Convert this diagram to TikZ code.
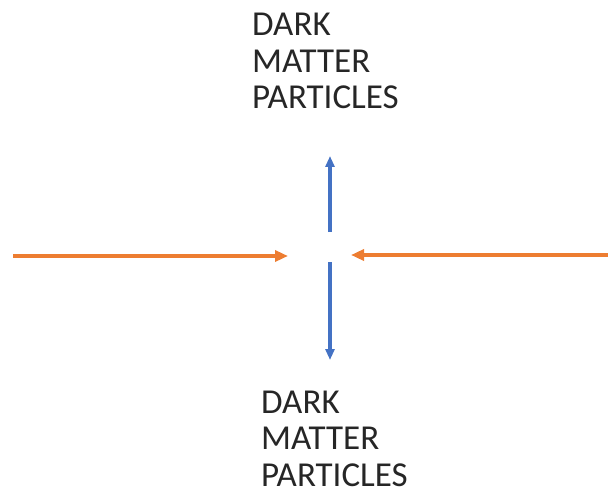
\documentclass[tikz,border=0pt]{standalone}
\usepackage{fontspec}
\setmainfont{Carlito}
\usetikzlibrary{arrows.meta}
\definecolor{beamorange}{HTML}{ED7D31}
\definecolor{decayblue}{HTML}{4472C4}
\tikzset{
  beam/.style={draw=beamorange, line width=4.5pt, -{Triangle[length=13pt, width=11pt]}},
  product/.style={draw=decayblue, line width=3.5pt, -{Triangle[length=11pt, width=9pt]}},
  caption/.style={font=\fontsize{35}{36.5}\selectfont, align=left, inner sep=0pt, anchor=base west, text=black!85}
}
\begin{document}
\begin{tikzpicture}[x=1pt, y=-1pt]
  \useasboundingbox (0,0) rectangle (608,492);
  % incoming beams
  \coordinate (lsrc) at (13,256);
  \coordinate (ltip) at (288,256);
  \coordinate (rsrc) at (608,255);
  \coordinate (rtip) at (351,255);
  \draw[beam] (lsrc) -- (ltip);
  \draw[beam] (rsrc) -- (rtip);
  % outgoing particles
  \coordinate (usrc) at (330,232);
  \coordinate (utip) at (330,156);
  \coordinate (dsrc) at (330,262);
  \coordinate (dtip) at (330,360);
  \draw[product] (usrc) -- (utip);
  \draw[product] (dsrc) -- (dtip);
  % labels (anchored at the baseline of their last line)
  \node[caption] (topl) at (252,109) {DARK\\MATTER\\PARTICLES};
  \node[caption] (botl) at (261,486) {DARK\\MATTER\\PARTICLES};
\end{tikzpicture}
\end{document}
